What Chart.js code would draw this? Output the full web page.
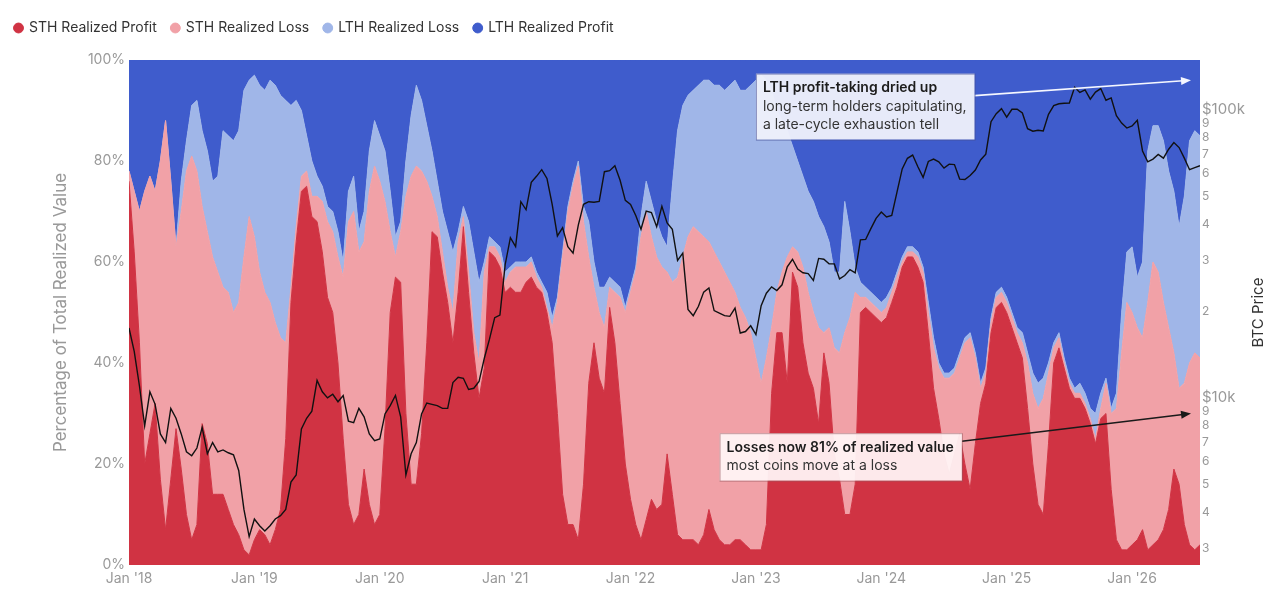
<!DOCTYPE html>
<html>
<head>
<style>
  body { margin: 0; background: #fff; font-family: Inter, sans-serif; }
  #wrap { width: 1280px; height: 608px; position: relative; }
</style>
</head>
<body>
<div id="wrap"><canvas id="chart"></canvas></div>
<script src="https://cdn.jsdelivr.net/npm/chart.js"></script>
<script>
// half-month steps from Jan 2018
const startYear = 2018;
const stepsPerYear = 24;
const yearTicks = [2018, 2019, 2020, 2021, 2022, 2023, 2024, 2025, 2026];
const priceTicks = [3000, 4000, 5000, 6000, 7000, 8000, 9000, 10000,
  20000, 30000, 40000, 50000, 60000, 70000, 80000, 90000, 100000];

// shares of total realized value, %
const sthProfit = [
  76,62,44,20,26,32,17,7,17,27,19,10,5,8,28,24,14,14,14,11,8,6,3,2,
  5,7,6,4,7,11,25,52,64,74,75,69,68,62,53,50,40,25,12,8,10,19,12,8,
  10,27,50,57,56,30,16,16,26,44,66,65,58,52,44,54,67,54,42,33,39,62,61,59,
  54,55,54,54,56,57,55,54,50,44,30,14,8,8,5,16,36,44,37,34,51,44,32,20,
  13,8,5,9,13,11,12,22,14,6,5,5,5,4,6,11,7,5,4,4,5,5,4,3,
  3,3,8,34,46,46,36,58,55,44,38,35,28,42,36,22,17,10,10,16,50,51,50,49,
  48,49,52,55,59,61,61,59,56,46,35,29,22,18,22,26,20,15,24,32,36,46,51,52,
  50,47,44,41,31,20,12,10,24,40,43,39,35,33,33,31,28,24,29,30,15,5,3,3,
  4,5,7,3,4,5,7,11,19,16,8,4,3,4
];
const sthLoss = [
  2,12,26,54,51,42,63,81,59,36,51,68,76,70,43,42,47,44,41,43,42,46,58,67,
  60,51,48,48,41,34,19,3,3,3,3,4,5,10,15,16,21,32,56,62,52,45,62,71,
  66,45,16,4,10,43,61,63,52,32,7,4,4,3,6,10,2,4,4,7,19,1,2,2,
  2,3,5,5,3,3,2,1,1,3,22,47,62,67,74,52,25,11,13,13,4,10,21,30,
  41,50,60,61,52,50,47,36,42,51,56,60,62,62,59,53,55,55,54,52,49,46,45,43,
  38,33,33,13,8,12,25,5,7,15,16,15,19,4,11,21,25,36,39,38,3,2,2,2,
  2,2,2,2,1,1,1,2,2,4,8,10,15,19,16,15,24,30,17,3,2,2,2,2,
  2,2,2,3,9,14,19,23,14,3,2,1,1,1,1,1,1,1,2,6,15,26,39,49,
  46,42,38,49,56,53,45,36,23,19,28,36,39,37
];
const lthLoss = [
  0,0,0,0,0,0,0,0,0,0,6,6,10,14,15,16,15,19,31,31,34,34,33,27,
  32,37,40,44,47,48,48,36,25,13,7,7,4,3,3,4,5,3,6,7,4,6,8,9,
  9,10,8,4,2,7,12,16,14,11,9,7,8,11,12,2,2,10,16,16,2,2,1,2,
  2,1,1,1,1,1,1,1,3,2,1,1,1,1,1,3,7,5,5,8,2,2,2,1,
  1,1,4,6,7,7,6,5,19,29,30,28,27,29,31,32,33,35,36,39,42,43,45,49,
  55,61,55,47,36,30,25,20,18,18,20,22,22,21,17,15,16,26,17,5,3,2,2,2,
  2,2,1,1,1,1,1,1,1,2,2,1,1,1,1,1,1,1,1,1,1,1,1,1,
  1,1,1,2,2,4,5,4,2,1,1,1,1,1,2,2,2,5,3,1,1,3,8,10,
  13,10,15,30,27,29,32,31,32,32,37,44,44,44
];
const lthProfit = [
  22,26,30,26,23,26,20,12,24,37,24,16,9,8,14,18,24,23,14,15,16,14,6,4,
  3,5,6,4,5,7,8,9,8,10,15,20,23,25,29,30,34,40,26,23,34,30,18,12,
  15,18,26,35,32,20,11,5,8,13,18,24,30,34,38,34,29,32,38,44,40,35,36,37,
  42,41,40,40,40,39,42,44,46,51,47,38,29,24,20,29,32,40,45,45,43,44,45,49,
  45,41,31,24,28,32,35,37,25,14,9,7,6,5,4,4,5,5,6,5,4,6,6,5,
  4,3,4,6,10,12,14,17,20,23,26,28,31,33,36,42,42,28,34,41,44,45,46,47,
  48,47,45,42,39,37,37,38,41,48,55,60,62,62,61,58,55,54,58,64,61,51,46,45,
  47,50,53,54,58,62,64,63,60,56,54,59,63,65,64,66,69,70,66,63,69,66,50,38,
  37,43,40,18,13,13,16,22,26,33,27,16,14,15
];
// BTC price, USD
const btcPrice = [
  17500,14500,11000,8000,10500,9500,7500,7000,9200,8500,7500,6500,6300,6700,7900,6400,7000,6500,6600,6450,6350,5600,4100,3300,
  3800,3600,3450,3600,3800,3900,4100,5100,5400,7800,8500,9000,11500,10500,10000,10300,9700,10200,8300,8200,9200,8600,7500,7100,
  7200,8800,9400,10200,8600,5400,6400,7000,8800,9600,9500,9400,9200,9200,11300,11800,11700,10700,10800,11400,13700,16000,19000,19400,
  29000,36000,33500,48000,45000,56000,58800,62000,57800,47000,36500,39000,33500,31800,39800,47000,48000,47800,48100,61000,61500,64000,57000,48500,
  47000,43000,38500,44500,44000,39300,46300,40500,38500,30000,31800,20300,19300,20800,23300,24100,20100,19700,19300,19200,20500,16800,17000,17800,
  16600,20900,23100,24300,23600,24700,28500,30300,28000,27200,27000,25600,30500,30300,29200,29200,25900,26600,27900,27200,35400,35500,38700,42000,
  44200,42500,43000,51800,62400,67900,69700,63500,58300,66200,67500,66000,62800,64800,64600,57500,57300,59200,61800,67000,70200,91000,97000,101000,
  94400,100500,100600,97500,86000,84300,85000,84500,96500,103500,105000,105500,105700,119800,115000,117400,109000,115300,118600,108000,110000,95500,90000,86500,
  88000,92000,72000,66000,67500,70000,68000,73000,77000,74000,68000,62000,63000,64000
];

const dates = sthProfit.map((_, i) => startYear + i / stepsPerYear);
const pts = arr => arr.map((v, i) => ({ x: dates[i], y: v }));

const notes = [
  { x: 2023.0, y: 97.3, tipX: 2026.47, tipY: 96, fromDy: 22,
    bold: 'LTH profit-taking dried up',
    lines: ['long-term holders capitulating,', 'a late-cycle exhaustion tell'],
    fill: 'rgba(238,240,251,0.96)', stroke: 'rgba(70,80,150,0.6)', arrow: '#f5f7ff' },
  { x: 2022.71, y: 26.1, tipX: 2026.47, tipY: 30, fromDy: 8,
    bold: 'Losses now 81% of realized value',
    lines: ['most coins move at a loss'],
    fill: 'rgba(255,244,245,0.94)', stroke: 'rgba(150,90,95,0.55)', arrow: '#1a1a1a' }
];

const legendSpacer = {
  id: 'legendSpacer',
  beforeInit(chart) {
    const fit = chart.legend.fit;
    chart.legend.fit = function () { fit.bind(chart.legend)(); this.height += 15; };
  }
};

const overlay = {
  id: 'overlay',
  afterDatasetsDraw(chart) {
    const { ctx, scales: { x, y } } = chart;
    notes.forEach(n => {
      ctx.save();
      const left = x.getPixelForValue(n.x);
      const top = y.getPixelForValue(n.y);
      ctx.font = '600 14px Inter';
      let w = ctx.measureText(n.bold).width;
      ctx.font = '14px Inter';
      n.lines.forEach(t => { w = Math.max(w, ctx.measureText(t).width); });
      w += 15;
      const h = 29 + n.lines.length * 18.5;
      // arrow
      const sx = left + w, sy = top + n.fromDy;
      const tx = x.getPixelForValue(n.tipX), ty = y.getPixelForValue(n.tipY);
      const ang = Math.atan2(ty - sy, tx - sx);
      ctx.strokeStyle = n.arrow;
      ctx.fillStyle = n.arrow;
      ctx.lineWidth = 1.6;
      ctx.beginPath();
      ctx.moveTo(sx, sy);
      ctx.lineTo(tx - 8 * Math.cos(ang), ty - 8 * Math.sin(ang));
      ctx.stroke();
      ctx.beginPath();
      ctx.moveTo(tx, ty);
      ctx.lineTo(tx - 10 * Math.cos(ang) + 4 * Math.sin(ang), ty - 10 * Math.sin(ang) - 4 * Math.cos(ang));
      ctx.lineTo(tx - 10 * Math.cos(ang) - 4 * Math.sin(ang), ty - 10 * Math.sin(ang) + 4 * Math.cos(ang));
      ctx.closePath();
      ctx.fill();
      // box
      ctx.fillStyle = n.fill;
      ctx.fillRect(left, top, w, h);
      ctx.strokeStyle = n.stroke;
      ctx.lineWidth = 1;
      ctx.strokeRect(left + 0.5, top + 0.5, w, h);
      ctx.textBaseline = 'middle';
      ctx.fillStyle = '#1c1c1c';
      ctx.font = '600 14px Inter';
      ctx.fillText(n.bold, left + 7, top + 14.5);
      ctx.fillStyle = '#333';
      ctx.font = '14px Inter';
      n.lines.forEach((t, k) => ctx.fillText(t, left + 7, top + 14.5 + 18.5 * (k + 1)));
      ctx.restore();
    });
    // right axis title, reading bottom to top
    const area = chart.chartArea;
    ctx.save();
    ctx.translate(1258, (area.top + area.bottom) / 2);
    ctx.rotate(-Math.PI / 2);
    ctx.textAlign = 'center';
    ctx.textBaseline = 'middle';
    ctx.fillStyle = '#333';
    ctx.font = '15px Inter';
    ctx.fillText('BTC Price', 0, 0);
    ctx.restore();
  }
};

const area = (label, data, color, fill) => ({
  label, data: pts(data), yAxisID: 'y', fill,
  backgroundColor: color, borderColor: color, borderWidth: 1,
  pointRadius: 0, tension: 0, order: 1
});

new Chart(document.getElementById('chart'), {
  type: 'line',
  data: {
    datasets: [
      area('STH Realized Profit', sthProfit, '#d03343', 'origin'),
      area('STH Realized Loss', sthLoss, '#f1a1a7', '-1'),
      area('LTH Realized Loss', lthLoss, '#a0b6e8', '-1'),
      area('LTH Realized Profit', lthProfit, '#3f5ccc', '-1'),
      {
        label: 'BTC Price', data: pts(btcPrice), yAxisID: 'y2', fill: false,
        borderColor: '#111', borderWidth: 1.4, pointRadius: 0, tension: 0, order: 0
      }
    ]
  },
  options: {
    responsive: true,
    maintainAspectRatio: false,
    animation: false,
    layout: { padding: { top: 6, left: 0, right: 0, bottom: 0 } },
    plugins: {
      tooltip: { enabled: false },
      legend: {
        position: 'top',
        align: 'start',
        labels: {
          filter: item => item.text !== 'BTC Price',
          usePointStyle: true,
          pointStyle: 'circle',
          boxWidth: 7,
          boxHeight: 7,
          padding: 15,
          color: '#333',
          font: { family: 'Inter', size: 14 }
        }
      }
    },
    scales: {
      x: {
        type: 'linear',
        min: startYear,
        max: dates[dates.length - 1],
        afterBuildTicks: s => { s.ticks = yearTicks.map(v => ({ value: v })); },
        afterFit: s => { s.height = 43; },
        grid: { display: false, drawTicks: false },
        border: { display: false },
        ticks: {
          autoSkip: false, maxRotation: 0, padding: 5,
          color: '#999', font: { family: 'Inter', size: 14 },
          callback: v => "Jan '" + String(v).slice(2)
        }
      },
      y: {
        position: 'left',
        stacked: true,
        min: 0,
        max: 100,
        afterFit: s => { s.width = 129; },
        grid: { display: false, drawTicks: false },
        border: { display: false },
        ticks: {
          stepSize: 20, padding: 4,
          color: '#999', font: { family: 'Inter', size: 14 },
          callback: v => v + '%'
        },
        title: {
          display: true,
          text: 'Percentage of Total Realized Value',
          color: '#999',
          font: { family: 'Inter', size: 17 },
          padding: { top: 51, bottom: 0 }
        }
      },
      y2: {
        type: 'logarithmic',
        position: 'right',
        min: 2630,
        max: 149000,
        afterBuildTicks: s => { s.ticks = priceTicks.map(v => ({ value: v })); },
        afterFit: s => { s.width = 80; },
        grid: { display: false, drawTicks: false },
        border: { display: false },
        ticks: {
          padding: 2,
          color: '#999',
          font: ctx => ({ family: 'Inter', size: (ctx.tick && (ctx.tick.value === 10000 || ctx.tick.value === 100000)) ? 15 : 12 }),
          callback: v => {
            if (v === 100000) return '$100k';
            if (v === 10000) return '$10k';
            return String(Math.round(v / Math.pow(10, Math.floor(Math.log10(v)))));
          }
        }
      }
    }
  },
  plugins: [legendSpacer, overlay]
});
</script>
</body>
</html>
